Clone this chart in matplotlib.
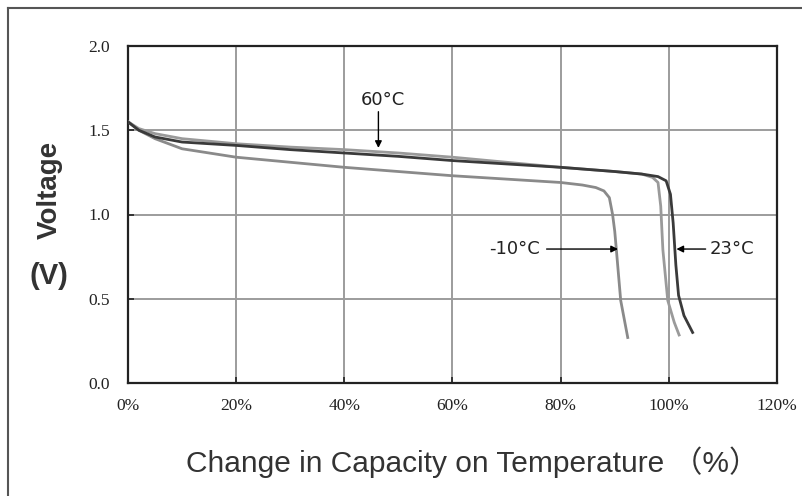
import matplotlib
matplotlib.use('Agg')
import matplotlib.pyplot as plt
from matplotlib.lines import Line2D

# discharge curves (capacity %, voltage V)
cap_m10 = [0, 2, 5, 10, 20, 30, 40, 50, 60, 70, 80, 84, 86.5, 88, 89, 89.6, 90.0, 90.3, 91.1, 92.4]
volt_m10 = [1.55, 1.50, 1.45, 1.39, 1.34, 1.31, 1.28, 1.255, 1.23, 1.21, 1.19, 1.175, 1.16, 1.14, 1.10, 1.0, 0.9, 0.79, 0.49, 0.27]

cap_60 = [0, 2, 5, 10, 20, 30, 40, 50, 60, 70, 80, 90, 95, 97, 98, 98.5, 98.9, 99.8, 101, 101.9]
volt_60 = [1.55, 1.51, 1.48, 1.45, 1.42, 1.40, 1.385, 1.365, 1.34, 1.31, 1.28, 1.255, 1.24, 1.22, 1.19, 1.05, 0.79, 0.49, 0.36, 0.285]

cap_23 = [0, 2, 5, 10, 20, 30, 40, 50, 60, 70, 80, 90, 95, 98, 99.5, 100.3, 100.8, 101.3, 101.8, 102.8, 104.4]
volt_23 = [1.55, 1.50, 1.46, 1.43, 1.41, 1.385, 1.365, 1.345, 1.32, 1.30, 1.28, 1.255, 1.24, 1.225, 1.20, 1.12, 0.95, 0.70, 0.52, 0.40, 0.30]

xticks = [0, 20, 40, 60, 80, 100, 120]
xtick_labels = ['0%', '20%', '40%', '60%', '80%', '100%', '120%']
yticks = [0.0, 0.5, 1.0, 1.5, 2.0]
ytick_labels = ['0.0', '0.5', '1.0', '1.5', '2.0']

fig = plt.figure(figsize=(8.02, 4.96), dpi=100)
ax = fig.add_axes([128/802, 1-383/496, 649/802, 337/496])

ax.plot(cap_m10, volt_m10, color='#8a8a8a', lw=2.0, zorder=3)
ax.plot(cap_60, volt_60, color='#9a9a9a', lw=2.0, zorder=3)
ax.plot(cap_23, volt_23, color='#3a3a3a', lw=2.0, zorder=4)

ax.set_xlim(0, 120)
ax.set_ylim(0, 2.0)
ax.set_xticks(xticks)
ax.set_xticklabels(xtick_labels, family='Liberation Serif', fontsize=12.5)
ax.set_yticks(yticks)
ax.set_yticklabels(ytick_labels, family='Liberation Serif', fontsize=12.5)
ax.tick_params(direction='in', length=4, width=1.2, colors='#222222')
ax.tick_params(axis='x', pad=11)
ax.tick_params(axis='y', pad=13)
ax.grid(True, color='#9c9c9c', lw=1.4)
ax.set_axisbelow(True)
for sp in ax.spines.values():
    sp.set_linewidth(1.6)
    sp.set_color('#222222')

arrow = dict(arrowstyle='-|>', color='black', lw=1.0, mutation_scale=10, shrinkA=0, shrinkB=0)
lab = dict(fontsize=13, color='#222222', va='center')
ax.annotate('', xy=(46.3, 1.395), xytext=(46.3, 1.61), arrowprops=arrow)
ax.text(47.2, 1.68, '60°C', ha='center', **lab)
ax.annotate('', xy=(90.6, 0.795), xytext=(77.4, 0.795), arrowprops=arrow)
ax.text(76.2, 0.795, '-10°C', ha='right', **lab)
ax.annotate('', xy=(101.4, 0.795), xytext=(106.8, 0.795), arrowprops=arrow)
ax.text(107.5, 0.795, '23°C', ha='left', **lab)

fig.text(50/802, 1-190/496, 'Voltage', rotation=90, ha='center', va='center',
         fontsize=20, fontweight='bold', color='#333333', family='Liberation Sans')
fig.text(49/802, 1-276/496, '(V)', ha='center', va='center',
         fontsize=21, fontweight='bold', color='#333333', family='Liberation Sans')
fig.text(472/802, 1-462/496, 'Change in Capacity on Temperature （%）', ha='center', va='center',
         fontsize=21.5, color='#333333', family=['Liberation Sans', 'Noto Sans CJK JP'])

# outer frame (top and left edges visible)
fig.add_artist(Line2D([8/802, 1.0], [1-8/496, 1-8/496], transform=fig.transFigure, color='#555555', lw=1.5))
fig.add_artist(Line2D([8/802, 8/802], [0.0, 1-8/496], transform=fig.transFigure, color='#555555', lw=1.5))

fig.savefig('out.png', dpi=100)
